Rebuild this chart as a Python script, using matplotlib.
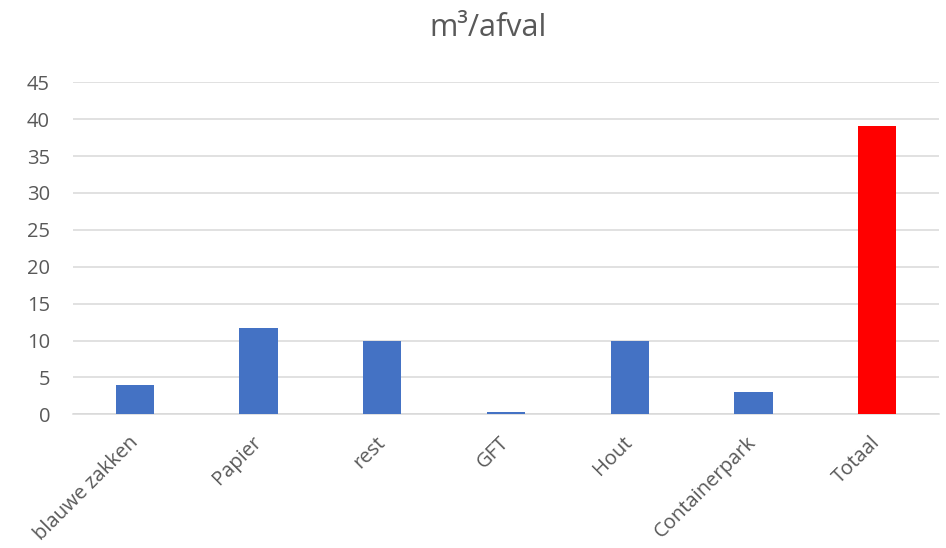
import matplotlib.pyplot as plt
from matplotlib.transforms import ScaledTranslation

categories = ["blauwe zakken", "Papier", "rest", "GFT", "Hout", "Containerpark", "Totaal"]
values = [4, 11.75, 10, 0.35, 10, 3, 39.1]
colors = ["#4472C4"] * 6 + ["#FF0000"]
yticks = list(range(0, 50, 5))

plt.rcParams["font.family"] = ["Open Sans", "DejaVu Sans"]
text_color = "#595959"
grid_color = "#D9D9D9"

fig = plt.figure(figsize=(9.46, 5.48), dpi=100)
ax = fig.add_axes([73 / 946, 1 - 414.3 / 548, 866 / 946, (414.3 - 82.3) / 548])

x = list(range(len(categories)))
ax.bar(x, values, width=0.31, color=colors, zorder=3)

ax.set_xlim(-0.5, len(categories) - 0.5)
ax.set_ylim(0, 45)
ax.set_yticks(yticks)
ax.set_xticks(x)
ax.set_xticklabels([])

# category labels placed by hand so the rotated ends sit under the bars
offset = ScaledTranslation(-7 / 100, -18 / 100, fig.dpi_scale_trans)
for i, name in zip(x, categories):
    ax.text(i, 0, name, transform=ax.get_xaxis_transform() + offset,
            rotation=45, rotation_mode="anchor", ha="right", va="top",
            fontsize=14.5, color=text_color)

ax.grid(axis="y", color=grid_color, linewidth=1.1, zorder=0)
for side in ["top", "right", "left"]:
    ax.spines[side].set_visible(False)
ax.spines["bottom"].set_color(grid_color)
ax.spines["bottom"].set_linewidth(1.1)
ax.tick_params(axis="both", length=0, labelsize=14.5, colors=text_color)
ax.tick_params(axis="y", pad=16.5)

fig.text(0.5155, 1 - 28 / 548, "m³/afval", ha="center", va="center",
         fontsize=22, color=text_color)

fig.savefig("out.png", dpi=100)
